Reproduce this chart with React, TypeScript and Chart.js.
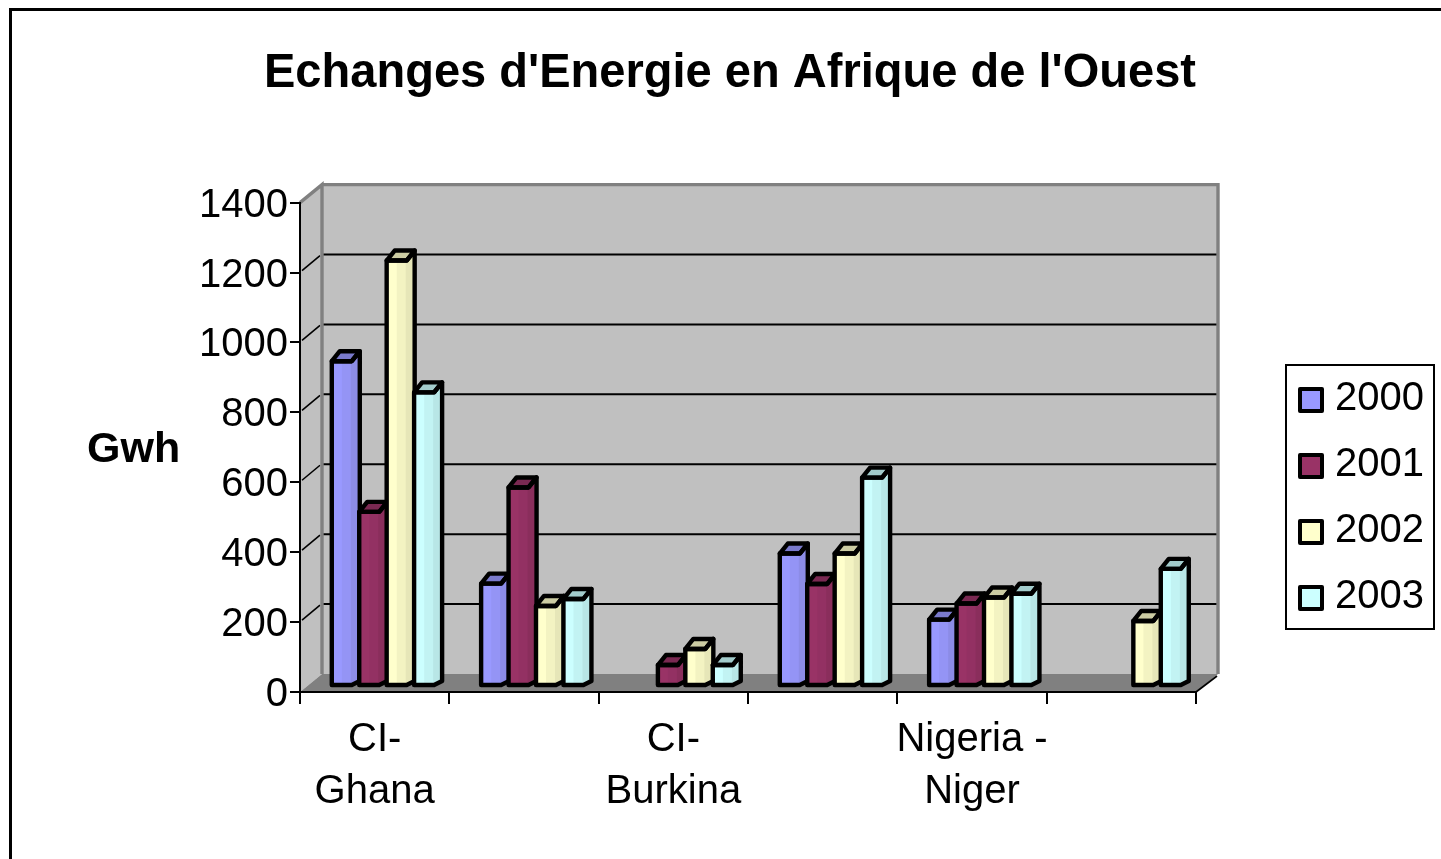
import React, { useEffect, useRef } from "react";
import { Chart, registerables, BarController, BarElement } from "chart.js";

const categories: (string | string[])[] = [["CI-", "Ghana"], "", ["CI-", "Burkina"], "", ["Nigeria -", "Niger"], ""];
const years = ["2000", "2001", "2002", "2003"];
const values2000 = [929, 293, null, 379, 190, null];
const values2001 = [498, 568, 60, 292, 236, null];
const values2002 = [1217, 229, 106, 379, 253, 186];
const values2003 = [840, 249, 60, 596, 264, 335];
const baseColors = ["#9999FF", "#993366", "#FFFFCC", "#CCFFFF"];
const midColors = ["#9494F5", "#933163", "#F3F3C2", "#C2F3F3"];
const sideColors = ["#8C8CE6", "#8A2E5C", "#E6E6B8", "#B8E6E6"];
const topColors = ["#7A7ACC", "#7A2952", "#CCCCA3", "#A3CCCC"];
const titleText = "Echanges d'Energie en Afrique de l'Ouest";
const axisName = "Gwh";
const FONT = '"Liberation Sans", Arial, sans-serif';

const WALL_DX = 22;
const WALL_DY = 18;

class Bar3D extends BarElement {
  static id = "bar3d";
  draw(ctx: CanvasRenderingContext2D) {
    const { x, y, base, width } = this as any;
    const o = (this as any).options;
    const x0 = x - width / 2 + 12;
    const W = 28;
    const wf = 20;
    const rise = 10;
    const baseY = base - 6;
    const topF = y - 6;
    const topB = topF - rise;
    const baseR = baseY - 4;
    const body = new Path2D();
    body.moveTo(x0, topF);
    body.lineTo(x0 + wf, topF);
    body.lineTo(x0 + W, topB);
    body.lineTo(x0 + W, baseR);
    body.lineTo(x0 + wf, baseY);
    body.lineTo(x0, baseY);
    body.closePath();
    ctx.save();
    ctx.save();
    ctx.clip(body);
    ctx.fillStyle = o.baseColor;
    ctx.fillRect(x0, topB, W, baseY - topB);
    ctx.fillStyle = o.midColor;
    ctx.fillRect(x0 + W * 0.36, topB, W, baseY - topB);
    ctx.fillStyle = o.sideColor;
    ctx.fillRect(x0 + W * 0.68, topB, W, baseY - topB);
    ctx.restore();
    const top = new Path2D();
    top.moveTo(x0, topF);
    top.lineTo(x0 + 8, topB);
    top.lineTo(x0 + W, topB);
    top.lineTo(x0 + wf, topF);
    top.closePath();
    ctx.fillStyle = o.topColor;
    ctx.fill(top);
    ctx.strokeStyle = "#000";
    ctx.lineWidth = 4.4;
    ctx.lineJoin = "round";
    ctx.stroke(body);
    ctx.stroke(top);
    ctx.restore();
  }
}

class Bar3DController extends BarController {
  static id = "bar3d";
  static defaults = { ...(BarController as any).defaults, dataElementType: "bar3d" };
  draw() {
    const self = this as any;
    if (self.index !== 0) return;
    const chart = self.chart;
    const ctx = chart.ctx;
    chart.getSortedVisibleDatasetMetas().forEach((meta: any) => {
      meta.data.forEach((el: any, i: number) => {
        const v = meta.controller.getParsed(i).y;
        if (v !== null && !isNaN(v)) {
          const idx = meta.index;
          el.options = {
            ...el.options,
            baseColor: baseColors[idx],
            midColor: midColors[idx],
            sideColor: sideColors[idx],
            topColor: topColors[idx],
          };
          el.draw(ctx);
        }
      });
    });
  }
}

Chart.register(...registerables, Bar3D as any, Bar3DController as any);

const scene = {
  id: "scene",
  beforeDraw(chart: any) {
    const { ctx, chartArea: a, scales } = chart;
    const yS = scales.y;
    ctx.save();
    // outer frame
    ctx.strokeStyle = "#000";
    ctx.lineWidth = 3;
    ctx.strokeRect(10.5, 9.5, 1440, 860);
    const l = a.left, r = a.right, t = a.top, b = a.bottom;
    const d = WALL_DX, h = WALL_DY;
    // walls
    ctx.fillStyle = "#C0C0C0";
    ctx.fillRect(l + d, t - h, r - l, b - t);
    ctx.beginPath();
    ctx.moveTo(l, t);
    ctx.lineTo(l + d, t - h);
    ctx.lineTo(l + d, b - h);
    ctx.lineTo(l, b);
    ctx.closePath();
    ctx.fill();
    // floor
    ctx.fillStyle = "#808080";
    ctx.beginPath();
    ctx.moveTo(l, b);
    ctx.lineTo(l + d, b - h);
    ctx.lineTo(r + d, b - h);
    ctx.lineTo(r, b);
    ctx.closePath();
    ctx.fill();
    // gridlines
    ctx.strokeStyle = "#000";
    yS.ticks.forEach((tk: any) => {
      if (tk.value === 0 || tk.value === yS.max) return;
      const y = yS.getPixelForValue(tk.value);
      ctx.lineWidth = 2;
      ctx.beginPath();
      ctx.moveTo(l + d, y - h);
      ctx.lineTo(r + d, y - h);
      ctx.stroke();
      ctx.lineWidth = 1.6;
      ctx.beginPath();
      ctx.moveTo(l + 2, y - 2);
      ctx.lineTo(l + d - 2, y - h + 1);
      ctx.stroke();
    });
    // wall borders
    ctx.strokeStyle = "#808080";
    ctx.lineWidth = 3.4;
    ctx.beginPath();
    ctx.moveTo(l, t);
    ctx.lineTo(l + d, t - h);
    ctx.lineTo(l + d, b - h);
    ctx.moveTo(l + d, t - h);
    ctx.lineTo(r + d, t - h);
    ctx.lineTo(r + d, b - h);
    ctx.stroke();
    // floor right edge
    ctx.strokeStyle = "#000";
    ctx.lineWidth = 1.6;
    ctx.beginPath();
    ctx.moveTo(r, b);
    ctx.lineTo(r + d - 1, b - h + 2);
    ctx.stroke();
    ctx.restore();
  },
  afterDraw(chart: any) {
    const { ctx } = chart;
    ctx.save();
    // axis name
    ctx.fillStyle = "#000";
    ctx.font = `bold 43px ${FONT}`;
    ctx.textAlign = "left";
    ctx.textBaseline = "middle";
    ctx.fillText(axisName, 87, 450);
    // legend
    ctx.strokeStyle = "#000";
    ctx.lineWidth = 2;
    ctx.fillStyle = "#fff";
    ctx.fillRect(1286, 365, 148, 264);
    ctx.strokeRect(1286, 365, 148, 264);
    ctx.font = `40px ${FONT}`;
    chart.data.datasets.forEach((ds: any, i: number) => {
      const cy = 400 + i * 66;
      ctx.fillStyle = baseColors[i];
      ctx.strokeStyle = "#000";
      ctx.lineWidth = 4;
      ctx.lineJoin = "round";
      ctx.fillRect(1300, cy - 11, 22, 22);
      ctx.strokeRect(1300, cy - 11, 22, 22);
      ctx.fillStyle = "#000";
      ctx.fillText(ds.label, 1335, cy - 1);
    });
    ctx.restore();
  },
};

export default function App() {
  const ref = useRef<HTMLCanvasElement>(null);
  useEffect(() => {
    if (!ref.current) return;
    const allValues = [values2000, values2001, values2002, values2003];
    const chart = new Chart(ref.current, {
      type: "bar3d" as any,
      data: {
        labels: categories as any,
        datasets: years.map((y, i) => ({
          label: y,
          data: allValues[i],
          backgroundColor: baseColors[i],
          clip: false,
          categoryPercentage: 0.735,
          barPercentage: 1,
        })) as any,
      },
      options: {
        responsive: false,
        animation: false,
        layout: { padding: { left: 264, right: 245, top: 45, bottom: 0 } },
        plugins: {
          legend: { display: false },
          tooltip: { enabled: false },
          title: {
            display: true,
            text: titleText,
            color: "#000",
            font: { family: FONT, size: 48, weight: "bold", lineHeight: 1.2 },
            padding: { top: 0, bottom: 100 },
          },
        },
        scales: {
          x: {
            type: "category",
            offset: true,
            grid: { display: true, offset: true, drawOnChartArea: false, drawTicks: true, tickLength: 12, color: "#000", lineWidth: 2 },
            border: { color: "#000", width: 2 },
            ticks: {
              autoSkip: false,
              maxRotation: 0,
              minRotation: 0,
              color: "#000",
              padding: 10,
              font: { family: FONT, size: 40, lineHeight: 1.3 },
            },
            afterFit: (s: any) => { s.height = 167; },
          },
          y: {
            type: "linear",
            min: 0,
            max: 1400,
            grid: { drawOnChartArea: false, drawTicks: true, tickLength: 10, color: "#000", lineWidth: 2 },
            border: { color: "#000", width: 2 },
            ticks: {
              stepSize: 200,
              color: "#000",
              padding: 2,
              labelOffset: 3,
              font: { family: FONT, size: 40 },
              callback: (v: any) => String(v),
            },
            afterFit: (s: any) => {
              s.width = 36;
              s._computeLabelArea = () => undefined;
            },
          },
        },
      } as any,
      plugins: [scene],
    });
    return () => chart.destroy();
  }, []);
  return (
    <canvas
      ref={ref}
      width={1441}
      height={859}
      style={{ position: "absolute", left: 0, top: 0, display: "block" }}
    />
  );
}
